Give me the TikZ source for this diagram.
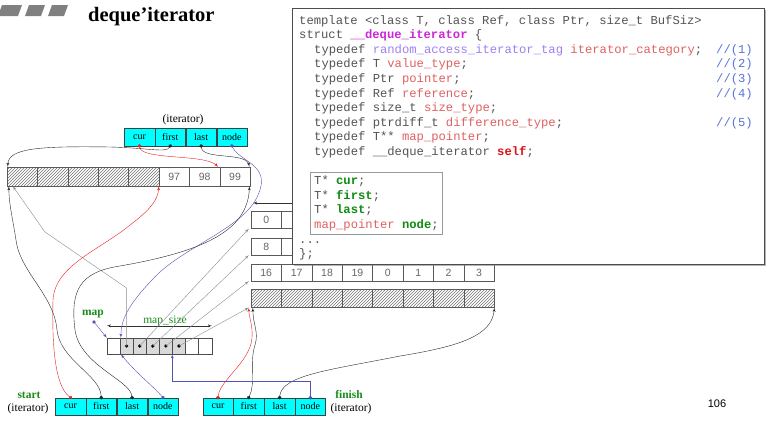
\documentclass[tikz,border=0pt]{standalone}
\usepackage{fontspec}
\setmainfont{Liberation Serif}
\setsansfont{Liberation Sans}
\newfontfamily\codefont{Liberation Mono}
\usetikzlibrary{shapes,shadows,arrows,arrows.meta,patterns,positioning,fit}
\definecolor{itercyan}{rgb}{0.00,1.00,1.00}
\definecolor{titlegray}{rgb}{0.50,0.50,0.50}
\definecolor{lblgreen}{rgb}{0.10,0.55,0.10}
\definecolor{ptrred}{rgb}{0.92,0.12,0.12}
\definecolor{ptrblue}{rgb}{0.32,0.32,0.70}
\definecolor{ptrblack}{rgb}{0.15,0.15,0.15}
\definecolor{codegray}{rgb}{0.33,0.33,0.33}
\definecolor{codered}{rgb}{0.88,0.38,0.38}
\definecolor{codepurple}{rgb}{0.62,0.50,0.95}
\definecolor{codemagenta}{rgb}{0.80,0.15,0.85}
\definecolor{codeblue}{rgb}{0.35,0.45,0.85}
\definecolor{codegreen}{rgb}{0.05,0.55,0.05}
\definecolor{selfred}{rgb}{0.87,0.07,0.07}
\tikzstyle{itercell}=[rectangle, draw=black!75, fill=itercyan, minimum width=30.4pt, minimum height=17.5pt, inner sep=0pt, font=\fontsize{10}{11}\selectfont]
\tikzstyle{bufcell}=[rectangle, draw=black!65, minimum width=30.4pt, minimum height=17pt, inner sep=0pt, font=\sffamily\fontsize{10.5}{11}\selectfont, text=black!60]
\tikzstyle{hatchcell}=[bufcell, pattern=north east lines, pattern color=black!55]
\tikzstyle{mapcell}=[rectangle, draw=black!70, minimum width=13.1pt, minimum height=16pt, inner sep=0pt]
\tikzstyle{mapdot}=[circle, fill=black, inner sep=0pt, minimum size=3.6pt]
\tikzstyle{ptr}=[{Circle[length=3.6pt]}->, shorten <=-1.8pt]
\tikzstyle{redptr}=[ptr, draw=ptrred]
\tikzstyle{blackptr}=[ptr, draw=ptrblack]
\tikzstyle{blueptr}=[ptr, draw=ptrblue]
\tikzstyle{maplink}=[->, draw=black!45]
\tikzstyle{label}=[font=\fontsize{11.5}{13}\selectfont]
\tikzstyle{greenlabel}=[label, text=lblgreen, font=\fontsize{11.5}{13}\selectfont\bfseries]
\tikzstyle{codetext}=[anchor=base west, inner sep=0pt, text=codegray, font=\codefont\fontsize{12.2}{14}\selectfont]
\tikzstyle{codecomment}=[codetext, anchor=base east, text=codeblue]
\newcommand{\iterboxes}[2]{
	\node[itercell] (#1cur) at (#2) {cur};
	\node[itercell, right=0pt of #1cur] (#1first) {first};
	\node[itercell, right=0pt of #1first] (#1last) {last};
	\node[itercell, right=0pt of #1last] (#1node) {node};}
\newcommand{\codeln}[3]{
	\node[codetext] (#1) at (#2) {#3};}
\newcommand{\ctype}[1]{\textcolor{codered}{#1}}
\newcommand{\ctag}[1]{\textcolor{codepurple}{#1}}
\newcommand{\cname}[1]{\textcolor{codegreen}{\bfseries #1}}
\newcommand{\cstruct}[1]{\textcolor{codemagenta}{\bfseries #1}}
\newcommand{\cself}[1]{\textcolor{selfred}{\bfseries #1}}

\begin{document}
\begin{tikzpicture}[x=1pt,y=-1pt,>=latex']
\useasboundingbox (0,0) rectangle (766,423);
% title
\fill[titlegray] (-2,16) -- (2,5) -- (22,5) -- (18,16) -- cycle;
\fill[titlegray] (25,16) -- (29,5) -- (45,5) -- (41,16) -- cycle;
\fill[titlegray] (48,16) -- (52,5) -- (68,5) -- (64,16) -- cycle;
\node[anchor=base west, inner sep=0pt, font=\fontsize{20.5}{22}\selectfont\bfseries] (title) at (88,21) {deque'iterator};
% iterators
\iterboxes{t}{139.5,137}
\iterboxes{s}{70.5,406.5}
\iterboxes{f}{218,406.5}
\node[label] (titerlbl) at (183,120) {(iterator)};
\node[greenlabel] (startlbl) at (29,395) {start};
\node[label] (siterlbl) at (28,409) {(iterator)};
\node[greenlabel] (finishlbl) at (349,395) {finish};
\node[label] (fiterlbl) at (351,409) {(iterator)};
% buffers
\foreach \i in {0,...,4}
	\node[hatchcell, minimum height=19pt] (b\i) at ({22.2+30.4*\i},176.5) {};
\foreach \v [count=\i from 5] in {97,98,99}
	\node[bufcell, minimum height=19pt] (b\i) at ({22.2+30.4*\i},176.5) {\v};
\node[bufcell] (r0-0) at (266.2,220) {0};
\node[bufcell] (r1-0) at (266.2,246.5) {8};
\foreach \i in {1,...,7} {
	\node[bufcell] (r0-\i) at ({266.2+30.4*\i},220) {};
	\node[bufcell] (r1-\i) at ({266.2+30.4*\i},246.5) {};}
\foreach \v [count=\i from 0] in {16,17,18,19,0,1,2,3}
	\node[bufcell] (r2-\i) at ({266.2+30.4*\i},272.5) {\v};
\foreach \i in {0,...,7}
	\node[hatchcell, minimum height=18pt] (r3-\i) at ({266.2+30.4*\i},298.5) {};
% map
\foreach \i in {0,6,7}
	\node[mapcell] (m\i) at ({113.5+13.1*\i},346) {};
\foreach \i in {1,...,5} {
	\node[mapcell, fill=black!15] (m\i) at ({113.5+13.1*\i},346) {};
	\node[mapdot] (d\i) at (m\i) {};}
\node[greenlabel] (maplbl) at (93,314) {map};
\coordinate (mapptr) at (94,322);
\draw[<->, black!80] ([yshift=12pt]m0.north west) -- ([yshift=12pt]m7.north east);
\node[label, text=lblgreen, anchor=base] (mapsizelbl) at (165,323) {map\_size};
\draw[maplink] (d1.center) -- ++(0,-58) -- (45,232) -- ([xshift=6pt]b0.south west);
\draw[maplink] (d2.center) -- ([xshift=-2pt]r0-0.south west);
\draw[maplink] (d3.center) -- ([xshift=-2pt]r1-0.south west);
\draw[maplink] (d4.center) -- ([xshift=-2pt]r2-0.south west);
\draw[maplink] (d5.center) -- ([xshift=-2pt]r3-0.south west);
% code box
\node[draw=black!70, line width=0.8pt, fill=white, anchor=north west, minimum width=472pt, minimum height=256pt,
	drop shadow={shadow xshift=1.5pt, shadow yshift=-1.5pt, opacity=0.6}] (codebox) at (292,8) {};
\codeln{code1}{299,24}{template <class T, class Ref, class Ptr, size\_t BufSiz>}
\codeln{code2}{299,38.6}{struct \cstruct{\_\_deque\_iterator} \{}
\codeln{code3}{314,53.2}{typedef \ctag{random\_access\_iterator\_tag} \ctype{iterator\_category};}
\codeln{code4}{314,67.8}{typedef T \ctype{value\_type};}
\codeln{code5}{314,82.4}{typedef Ptr \ctype{pointer};}
\codeln{code6}{314,97}{typedef Ref \ctype{reference};}
\codeln{code7}{314,111.6}{typedef size\_t \ctype{size\_type};}
\codeln{code8}{314,126.2}{typedef ptrdiff\_t \ctype{difference\_type};}
\codeln{code9}{314,140.8}{typedef T** \ctype{map\_pointer};}
\codeln{code10}{314,155.4}{typedef \_\_deque\_iterator \cself{self};}
\codeln{code11}{314,184.6}{T* \cname{cur};}
\codeln{code12}{314,199.2}{T* \cname{first};}
\codeln{code13}{314,213.8}{T* \cname{last};}
\codeln{code14}{314,228.4}{\ctype{map\_pointer} \cname{node};}
\codeln{code15}{299,243}{...}
\codeln{code16}{299,257.6}{\};}
\foreach \n/\y in {1/53.2,2/67.8,3/82.4,4/97,5/126.2}
	\node[codecomment] (com\n) at (753,\y) {//(\n)};
\node[draw=black!40, inner sep=3.5pt, fit=(code11)(code14)] (membox) {};
\coordinate (hiddenend) at (292,203);
\draw[->, black!80] (hiddenend) -- (253,203);
% top iterator
\draw[redptr] (tcur.south) .. controls (142,160) and (205,154) .. ([xshift=-2pt]b6.north east);
\draw[blackptr] (tfirst.south) .. controls (166,153) and (150,148) .. (110,147) .. controls (40,146) and (8,148) .. ([xshift=1pt]b0.north west);
\draw[blackptr] (tlast.south) .. controls (203,160) and (246,152) .. ([xshift=-1pt]b7.north east);
\draw[blueptr] (tnode.south) .. controls (240,162) and (272,165) .. (258,195) .. controls (245,228) and (180,248) .. (152,280) .. controls (128,305) and (121,320) .. ([xshift=1pt]m1.north west);
\draw[blueptr] (mapptr) -- (m0.north west);
% start
\draw[redptr] (scur.north) .. controls (54,385) and (52,340) .. (53,300) .. controls (55,265) and (100,250) .. (130,225) .. controls (150,210) and (158,200) .. (b5.south west);
\draw[blackptr] (sfirst.north) .. controls (100,375) and (60,360) .. (57,330) .. controls (54,295) and (20,272) .. (16,240) .. controls (13,220) and (9,205) .. ([xshift=2pt]b0.south west);
\draw[blackptr] (slast.north) .. controls (130,380) and (80,365) .. (75,330) .. controls (70,290) and (80,272) .. (120,266) .. controls (200,252) and (248,232) .. ([xshift=-1pt]b7.south east);
\draw[blueptr] (snode.north) .. controls (155,388) and (135,372) .. ([xshift=1pt]m1.south west);
% finish
\draw[redptr] (fcur.north) .. controls (220,380) and (250,362) .. (252,338) .. controls (253,325) and (249,318) .. ([xshift=-2pt]r3-0.south west);
\draw[blackptr] (ffirst.north) .. controls (256,382) and (249,365) .. (255,345) .. controls (259,332) and (253,325) .. ([xshift=2pt]r3-0.south west);
\draw[blackptr] (flast.north) .. controls (282,375) and (330,370) .. (400,356) .. controls (462,346) and (492,335) .. (r3-7.south east);
\draw[blueptr] (fnode.north) -- ++(0,-16) -| (m5.south west);
\node[font=\sffamily\fontsize{11}{12}\selectfont] (pagenum) at (717,404) {106};
\end{tikzpicture}
\end{document}
